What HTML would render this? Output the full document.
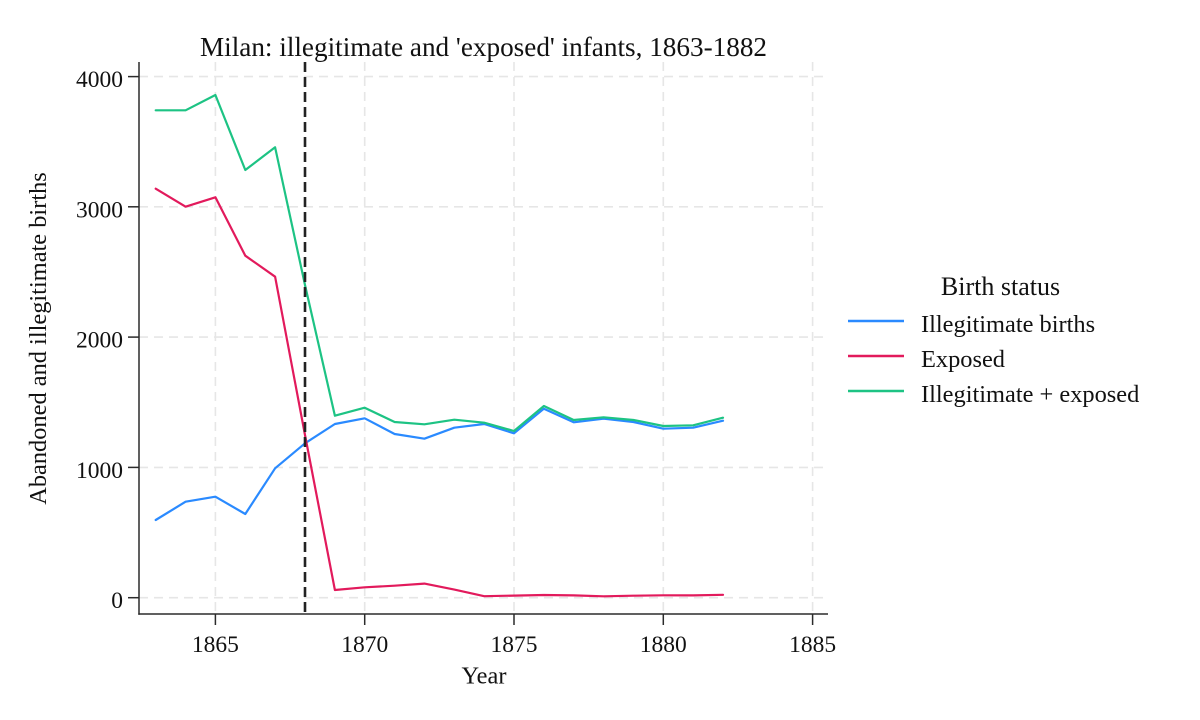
<!DOCTYPE html>
<html>
<head>
<meta charset="utf-8">
<style>
  html, body { margin:0; padding:0; background:#ffffff; }
  svg { display:block; }
  text { font-family: "Liberation Serif", "Times New Roman", serif; fill:#111; }
</style>
</head>
<body>
<svg width="1200" height="720" viewBox="0 0 1200 720" xmlns="http://www.w3.org/2000/svg">
  <rect x="0" y="0" width="1200" height="720" fill="#ffffff"/>

  <!-- gridlines -->
  <g stroke="#e6e6e6" stroke-width="1.6" stroke-dasharray="9,6" fill="none">
    <line x1="139" y1="597.7" x2="826" y2="597.7"/>
    <line x1="139" y1="467.4" x2="826" y2="467.4"/>
    <line x1="139" y1="337.1" x2="826" y2="337.1"/>
    <line x1="139" y1="206.8" x2="826" y2="206.8"/>
    <line x1="139" y1="76.6" x2="826" y2="76.6"/>
    <line x1="215.4" y1="62" x2="215.4" y2="614"/>
    <line x1="364.7" y1="62" x2="364.7" y2="614"/>
    <line x1="514.0" y1="62" x2="514.0" y2="614"/>
    <line x1="663.3" y1="62" x2="663.3" y2="614"/>
    <line x1="812.6" y1="62" x2="812.6" y2="614"/>
  </g>

  <!-- axes -->
  <g stroke="#2b2b2b" stroke-width="1.5" fill="none">
    <line x1="139" y1="62" x2="139" y2="614.7"/>
    <line x1="138.3" y1="614" x2="828" y2="614"/>
    <line x1="128" y1="597.7" x2="139" y2="597.7"/>
    <line x1="128" y1="467.4" x2="139" y2="467.4"/>
    <line x1="128" y1="337.1" x2="139" y2="337.1"/>
    <line x1="128" y1="206.8" x2="139" y2="206.8"/>
    <line x1="128" y1="76.6" x2="139" y2="76.6"/>
    <line x1="215.4" y1="614" x2="215.4" y2="625"/>
    <line x1="364.7" y1="614" x2="364.7" y2="625"/>
    <line x1="514.0" y1="614" x2="514.0" y2="625"/>
    <line x1="663.3" y1="614" x2="663.3" y2="625"/>
    <line x1="812.6" y1="614" x2="812.6" y2="625"/>
  </g>

  <!-- y tick labels -->
  <g font-size="23.5" text-anchor="end">
    <text x="123" y="608.2">0</text>
    <text x="123" y="477.9">1000</text>
    <text x="123" y="347.6">2000</text>
    <text x="123" y="217.3">3000</text>
    <text x="123" y="87.1">4000</text>
  </g>

  <!-- x tick labels -->
  <g font-size="23.5" text-anchor="middle">
    <text x="215.4" y="652">1865</text>
    <text x="364.7" y="652">1870</text>
    <text x="514.0" y="652">1875</text>
    <text x="663.3" y="652">1880</text>
    <text x="812.6" y="652">1885</text>
  </g>

  <!-- axis titles -->
  <text x="484" y="683.5" font-size="24.4" text-anchor="middle">Year</text>
  <text transform="translate(46,338.5) rotate(-90)" x="0" y="0" font-size="24.4" text-anchor="middle">Abandoned and illegitimate births</text>

  <!-- title -->
  <text x="483.5" y="56" font-size="27.2" text-anchor="middle">Milan: illegitimate and 'exposed' infants, 1863-1882</text>

  <!-- series -->
  <g fill="none" stroke-width="2.2" stroke-linejoin="round" stroke-linecap="round">
    <polyline stroke="#2a8aff" points="155.7,520 185.6,501.7 215.4,496.7 245.3,514 275.1,468.3 305.0,443.3 334.9,424 364.7,418.3 394.6,434 424.4,438.7 454.3,427.7 484.2,424 514.0,433.3 543.9,408.7 573.7,422.3 603.6,418.7 633.5,422 663.3,428.7 693.2,427.7 723.0,420.7"/>
    <polyline stroke="#e21a5c" points="155.7,188.7 185.6,206.7 215.4,197.3 245.3,255.7 275.1,276.7 305.0,435 334.9,590 364.7,587.3 394.6,585.7 424.4,583.6 454.3,589.6 484.2,596.2 514.0,595.6 543.9,595 573.7,595.4 603.6,596.3 633.5,595.7 663.3,595.3 693.2,595.4 723.0,594.8"/>
    <polyline stroke="#1dc384" points="155.7,110.3 185.6,110.3 215.4,95 245.3,170 275.1,147.3 305.0,285 334.9,415.7 364.7,407.7 394.6,422 424.4,424.3 454.3,419.7 484.2,422.7 514.0,431 543.9,406 573.7,420 603.6,417.3 633.5,420 663.3,426 693.2,425.3 723.0,417.7"/>
  </g>

  <!-- vertical dashed reference line at 1868 -->
  <line x1="305.0" y1="62" x2="305.0" y2="614" stroke="#222" stroke-width="2.6" stroke-dasharray="10,5"/>

  <!-- legend -->
  <text x="1000.5" y="295" font-size="26" text-anchor="middle">Birth status</text>
  <g stroke-width="2.4">
    <line x1="848" y1="321" x2="904" y2="321" stroke="#2a8aff"/>
    <line x1="848" y1="356" x2="904" y2="356" stroke="#e21a5c"/>
    <line x1="848" y1="391" x2="904" y2="391" stroke="#1dc384"/>
  </g>
  <g font-size="24.4">
    <text x="921" y="332">Illegitimate births</text>
    <text x="921" y="367">Exposed</text>
    <text x="921" y="402">Illegitimate + exposed</text>
  </g>
</svg>
</body>
</html>
